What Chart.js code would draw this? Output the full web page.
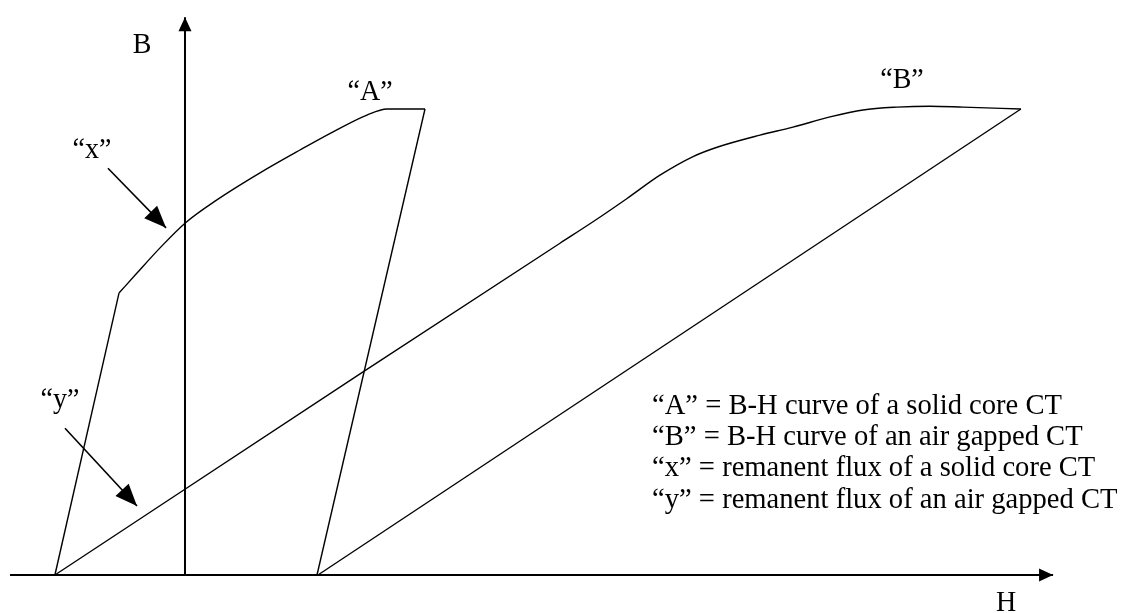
<!DOCTYPE html>
<html>
<head>
<meta charset="utf-8">
<script src="https://cdn.jsdelivr.net/npm/chart.js@4/dist/chart.umd.min.js"></script>
<style>
html,body{margin:0;padding:0;background:#fff;}
#wrap{width:1125px;height:613px;position:relative;}
</style>
</head>
<body>
<div id="wrap"><canvas id="c"></canvas></div>
<script>
// ---- Data (H, B in arbitrary normalized units) ----
// Curve "A": solid core CT
const curveA_leftLeg = [[-0.542, 0], [-0.275, 0.605]];
const curveA_top = [[-0.275, 0.605], [-0.2, 0.648], [-0.104, 0.702], [0, 0.755], [0.133, 0.805],
  [0.3125, 0.863], [0.479, 0.912], [0.617, 0.951], [0.758, 0.987], [0.842, 1.0], [1.0, 1.0]];
const curveA_rightLeg = [[1.0, 1.0], [0.55, 0]];
// Curve "B": air gapped CT
const curveB_upper = [[-0.542, 0], [0.742, 0.436], [1.5625, 0.712], [1.7, 0.758], [1.842, 0.808],
  [1.979, 0.858], [2.117, 0.898], [2.217, 0.918], [2.396, 0.944], [2.533, 0.961], [2.6875, 0.983],
  [2.825, 0.998], [2.967, 1.004], [3.104, 1.006], [3.242, 1.004], [3.483, 1.0]];
const curveB_lower = [[0.554, 0], [3.483, 1.0]];
// Axes
const axisH = [[-0.729, 0], [3.617, 0]];
const axisB = [[0, 0], [0, 1.197]];
// Pointer arrows [from, to]
const arrowX = [[-0.321, 0.873], [-0.079, 0.745]];
const arrowY = [[-0.5, 0.315], [-0.2, 0.148]];
// Labels
const labelTexts = ['B', 'H', '\u201CA\u201D', '\u201CB\u201D', '\u201Cx\u201D', '\u201Cy\u201D'];
const labelPos = [[-0.179, 1.137], [3.421, -0.06], [0.771, 1.036], [2.9875, 1.062], [-0.3875, 0.912], [-0.521, 0.3755]];
const legendLines = [
  '\u201CA\u201D = B-H curve of a solid core CT',
  '\u201CB\u201D = B-H curve of an air gapped CT',
  '\u201Cx\u201D = remanent flux of a solid core CT',
  '\u201Cy\u201D = remanent flux of an air gapped CT'
];
const legendH = 1.946;
const legendB = [0.363, 0.296, 0.230, 0.161];
// Scale ranges
const hRange = [-0.7708, 3.9167];
const bRange = [-0.0815, 1.2339];

const toPts = a => a.map(p => ({x: p[0], y: p[1]}));
function ds(arr, opts) {
  return Object.assign({data: toPts(arr), borderColor: '#000', borderWidth: 1.4, pointRadius: 0,
    showLine: true, fill: false, tension: 0}, opts || {});
}

const FONT = '"Liberation Serif", "Times New Roman", serif';

function arrowHead(ctx, x1, y1, x2, y2, len, halfW) {
  const a = Math.atan2(y2 - y1, x2 - x1);
  ctx.beginPath();
  ctx.moveTo(x2, y2);
  ctx.lineTo(x2 - len * Math.cos(a) + halfW * Math.sin(a), y2 - len * Math.sin(a) - halfW * Math.cos(a));
  ctx.lineTo(x2 - len * Math.cos(a) - halfW * Math.sin(a), y2 - len * Math.sin(a) + halfW * Math.cos(a));
  ctx.closePath();
  ctx.fill();
}

const annot = {
  id: 'annot',
  afterDatasetsDraw(chart) {
    const ctx = chart.ctx, xs = chart.scales.x, ys = chart.scales.y;
    const px = v => xs.getPixelForValue(v), py = v => ys.getPixelForValue(v);
    ctx.save();
    ctx.fillStyle = '#000';
    ctx.strokeStyle = '#000';
    // axis arrowheads
    arrowHead(ctx, px(axisH[0][0]), py(axisH[0][1]), px(axisH[1][0]), py(axisH[1][1]), 14, 6.5);
    arrowHead(ctx, px(axisB[0][0]), py(axisB[0][1]), px(axisB[1][0]), py(axisB[1][1]), 14, 6.5);
    // pointer arrows
    [arrowX, arrowY].forEach(a => {
      const x1 = px(a[0][0]), y1 = py(a[0][1]), x2 = px(a[1][0]), y2 = py(a[1][1]);
      ctx.lineWidth = 1.6;
      ctx.beginPath(); ctx.moveTo(x1, y1); ctx.lineTo(x2, y2); ctx.stroke();
      arrowHead(ctx, x1, y1, x2, y2, 22, 9);
    });
    // labels
    const sy = 1.06;
    ctx.textAlign = 'center';
    ctx.textBaseline = 'middle';
    ctx.font = '28px ' + FONT;
    labelTexts.forEach((t, i) => {
      ctx.save();
      ctx.translate(px(labelPos[i][0]), py(labelPos[i][1]));
      ctx.scale(1, sy);
      ctx.fillText(t, 0, 0);
      ctx.restore();
    });
    ctx.textAlign = 'left';
    ctx.font = '28.6px ' + FONT;
    legendLines.forEach((t, i) => {
      ctx.save();
      ctx.translate(px(legendH), py(legendB[i]));
      ctx.scale(1, sy);
      ctx.fillText(t, 0, 0);
      ctx.restore();
    });
    ctx.restore();
  }
};

new Chart(document.getElementById('c'), {
  type: 'scatter',
  data: {
    datasets: [
      ds(axisH, {borderWidth: 2}),
      ds(axisB, {borderWidth: 2}),
      ds(curveA_leftLeg),
      ds(curveA_top, {cubicInterpolationMode: 'monotone'}),
      ds(curveA_rightLeg),
      ds(curveB_upper, {cubicInterpolationMode: 'monotone'}),
      ds(curveB_lower)
    ]
  },
  options: {
    responsive: true,
    maintainAspectRatio: false,
    animation: false,
    layout: {padding: 0},
    plugins: {legend: {display: false}, tooltip: {enabled: false}},
    scales: {
      x: {type: 'linear', display: false, min: hRange[0], max: hRange[1]},
      y: {type: 'linear', display: false, min: bRange[0], max: bRange[1]}
    }
  },
  plugins: [annot]
});
</script>
</body>
</html>
